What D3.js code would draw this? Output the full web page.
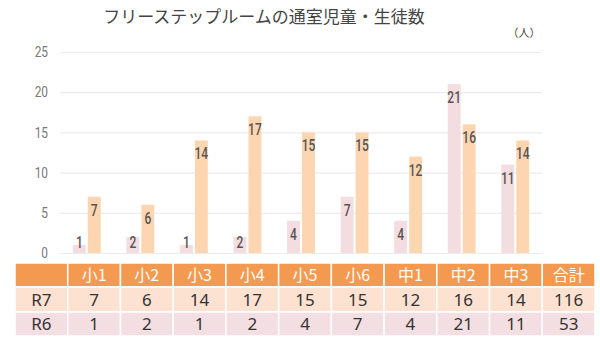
<!DOCTYPE html>
<html><head><meta charset="utf-8">
<script src="https://cdn.jsdelivr.net/npm/d3@7"></script>
<style>body{margin:0;background:#fff}svg{display:block}</style>
</head><body>
<svg id="c" width="600" height="345"></svg>
<script>
const title = "フリーステップルームの通室児童・生徒数";
const unitLabel = "（人）";
const categories = ["小1","小2","小3","小4","小5","小6","中1","中2","中3"];
const seriesNames = ["R6","R7"];
const r6 = [1,2,1,2,4,7,4,21,11];
const r7 = [7,6,14,17,15,15,12,16,14];
const totalLabel = "合計";
const totals = {R7:116, R6:53};
const yTicks = [0,5,10,15,20,25];

const svg = d3.select("#c");
const colors = {R6:"#f3dde0", R7:"#fdd5b0"};
const rowBg = {R7:"#fde2d2", R6:"#f3dfe1"};

const x0 = d3.scaleBand().domain(categories).range([60,542]).paddingInner(0.48).paddingOuter(0.24);
const x1 = d3.scaleBand().domain(seriesNames).range([0,x0.bandwidth()]).paddingInner(0.14);
const y = d3.scaleLinear().domain([0,25]).range([253,52]);

svg.append("text").attr("x",264).attr("y",23).attr("text-anchor","middle")
  .attr("font-family","'Noto Sans CJK JP'").attr("font-size",17).attr("fill","#444").text(title);
svg.append("text").attr("x",524).attr("y",37).attr("text-anchor","middle")
  .attr("font-family","'Noto Sans CJK JP'").attr("font-size",11).attr("fill","#444").text(unitLabel);

const yAxis = svg.append("g").attr("transform","translate(60,0)")
  .call(d3.axisLeft(y).tickValues(yTicks).tickSize(-482).tickPadding(0));
yAxis.select(".domain").remove();
yAxis.selectAll(".tick line").attr("stroke","#ececec").attr("stroke-width",1.2);
yAxis.selectAll(".tick text").attr("x",null)
  .attr("transform","translate(-12,0) scale(0.82,1)")
  .attr("font-family","Roboto, sans-serif")
  .attr("font-size",14.5).attr("fill","#777");

const data = categories.map((c,i)=>({cat:c, R6:r6[i], R7:r7[i]}));
const g = svg.append("g").selectAll("g").data(data).join("g")
  .attr("transform",d=>`translate(${x0(d.cat)},0)`);
g.selectAll("rect").data(d=>seriesNames.map(s=>({s,v:d[s]}))).join("rect")
  .attr("x",d=>x1(d.s)).attr("width",x1.bandwidth())
  .attr("y",d=>y(d.v)).attr("height",d=>y(0)-y(d.v)).attr("fill",d=>colors[d.s]);
g.selectAll("text").data(d=>seriesNames.map(s=>({s,v:d[s]}))).join("text")
  .attr("transform",d=>`translate(${x1(d.s)+x1.bandwidth()/2},${Math.min(y(d.v)+19, y(0)-5)}) scale(0.75,1)`)
  .attr("text-anchor","middle")
  .attr("font-family","Roboto, sans-serif")
  .attr("font-size",16).attr("font-weight",500).attr("fill","#555").text(d=>d.v);

// table
const cols = ["",...categories,totalLabel];
const tx = d3.scaleBand().domain(d3.range(cols.length)).range([15,595]);
const rows = [
  {key:"head", y0:263, y1:287, cells:cols},
  {key:"R7", y0:287, y1:312, cells:["R7",...r7,totals.R7]},
  {key:"R6", y0:312, y1:336, cells:["R6",...r6,totals.R6]}
];
const tg = svg.append("g");
rows.forEach(r=>{
  const bg = r.key==="head" ? "#f49a50" : rowBg[r.key];
  const rg = tg.append("g");
  rg.selectAll("rect").data(r.cells).join("rect")
    .attr("x",(d,i)=>tx(i)).attr("y",r.y0).attr("width",tx.bandwidth()).attr("height",r.y1-r.y0)
    .attr("fill",bg).attr("stroke","#fff").attr("stroke-width",1.5);
  rg.selectAll("text").data(r.cells).join("text")
    .attr("x",(d,i)=>tx(i)+tx.bandwidth()/2).attr("y",(r.y0+r.y1)/2+6)
    .attr("text-anchor","middle")
    .attr("font-family", r.key==="head" ? "'Noto Sans CJK JP'" : "'Noto Sans','Liberation Sans',sans-serif")
    .attr("font-size", r.key==="head" ? 16 : 17)
    .attr("fill", r.key==="head" ? "#fff" : "#333").text(d=>d);
});
</script>
</body></html>
